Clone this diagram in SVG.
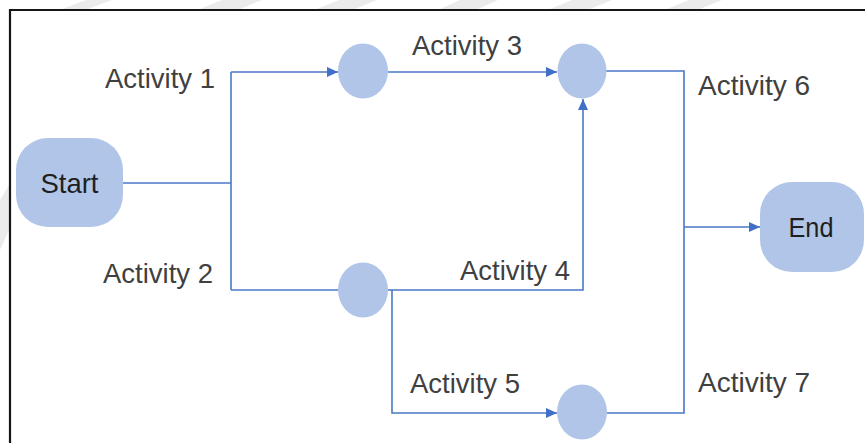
<svg xmlns="http://www.w3.org/2000/svg" width="865" height="443" viewBox="0 0 865 443">
  <defs>
    <style>
      .lbl { font-family: "Liberation Sans", Arial, sans-serif; font-size: 28.5px; fill: #404040; }
      .ntxt { font-family: "Liberation Sans", Arial, sans-serif; font-size: 28px; fill: #1f1f1f; text-anchor: middle; }
      .node { fill: #b1c5e8; }
      .wire { fill: none; stroke: #4a78c8; stroke-width: 1.6; }
      .stripe { fill: #ebebeb; }
    </style>
    <marker id="arr" viewBox="0 0 11 10" refX="11" refY="5" markerWidth="11" markerHeight="10" markerUnits="userSpaceOnUse" orient="auto">
      <path d="M0,0 L11,5 L0,10 z" fill="#3f6fc6"/>
    </marker>
  </defs>
  <rect width="865" height="443" fill="#ffffff"/>
  <g id="watermark">
    <polygon class="stripe" points="62,9 88,9 112,0 86,0"/>
    <polygon class="stripe" points="200,9 240,9 262,0 222,0"/>
    <polygon class="stripe" points="317,9 355,9 377,0 339,0"/>
    <polygon class="stripe" points="440,9 478,9 498,0 460,0"/>
    <polygon class="stripe" points="550,9 590,9 612,0 572,0"/>
    <polygon class="stripe" points="667,9 700,9 722,0 689,0"/>
    <polygon class="stripe" points="0,200 9,185 9,230 0,250"/>
  </g>
  <g id="frame">
    <path d="M10,443 L10,10 L865,10" fill="none" stroke="#161616" stroke-width="2.2"/>
  </g>
  <g id="connectors">
    <path class="wire" d="M123,183 H231"/>
    <path class="wire" d="M231,72 V290"/>
    <path class="wire" d="M231,72 H338" marker-end="url(#arr)"/>
    <path class="wire" d="M388,72 H557" marker-end="url(#arr)"/>
    <path class="wire" d="M231,290 H338"/>
    <path class="wire" d="M388,290 H583 V99" marker-end="url(#arr)"/>
    <path class="wire" d="M392,290 V413 H557" marker-end="url(#arr)"/>
    <path class="wire" d="M606,71 H684 V413 H607"/>
    <path class="wire" d="M684,227 H760" marker-end="url(#arr)"/>
  </g>
  <g id="start">
    <rect class="node" x="16" y="138" width="107" height="89" rx="32"/>
    <text class="ntxt" x="69.5" y="193" textLength="58" lengthAdjust="spacingAndGlyphs">Start</text>
  </g>
  <g id="end">
    <rect class="node" x="760" y="182" width="104" height="90" rx="32"/>
    <text class="ntxt" x="811" y="237" textLength="45" lengthAdjust="spacingAndGlyphs">End</text>
  </g>
  <g id="nodeA"><ellipse class="node" cx="363" cy="71" rx="25" ry="27.5"/></g>
  <g id="nodeB"><ellipse class="node" cx="582" cy="71" rx="24.5" ry="27.5"/></g>
  <g id="nodeC"><ellipse class="node" cx="363" cy="290" rx="25" ry="27.5"/></g>
  <g id="nodeD"><ellipse class="node" cx="582" cy="412" rx="25" ry="27.5"/></g>
  <g id="labels">
    <text class="lbl" x="105" y="88" textLength="110" lengthAdjust="spacingAndGlyphs">Activity 1</text>
    <text class="lbl" x="103" y="283" textLength="110" lengthAdjust="spacingAndGlyphs">Activity 2</text>
    <text class="lbl" x="412" y="55" textLength="110" lengthAdjust="spacingAndGlyphs">Activity 3</text>
    <text class="lbl" x="460" y="280" textLength="110" lengthAdjust="spacingAndGlyphs">Activity 4</text>
    <text class="lbl" x="410" y="393" textLength="110" lengthAdjust="spacingAndGlyphs">Activity 5</text>
    <text class="lbl" x="698" y="95" textLength="112" lengthAdjust="spacingAndGlyphs">Activity 6</text>
    <text class="lbl" x="698" y="392" textLength="112" lengthAdjust="spacingAndGlyphs">Activity 7</text>
  </g>
</svg>
